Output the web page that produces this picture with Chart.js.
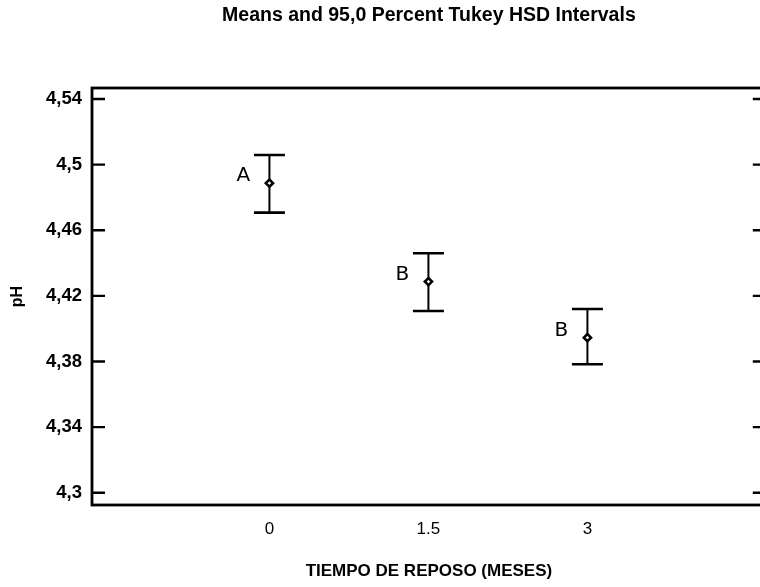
<!DOCTYPE html>
<html>
<head>
<meta charset="utf-8">
<script src="https://cdn.jsdelivr.net/npm/chart.js@4.4.1/dist/chart.umd.min.js"></script>
<style>
  html, body { margin: 0; padding: 0; background: #fff; overflow: hidden; }
  /* the right edge of the frame sits just past the picture edge */
  #wrap { width: 772px; height: 587px; }
</style>
</head>
<body>
<div id="wrap"><canvas id="myChart"></canvas></div>
<script>
// data
const months = [0, 1.5, 3];
const groupLabels = ['0', '1.5', '3'];
const means = [4.4887, 4.4287, 4.3945];
const lower = [4.4707, 4.4108, 4.3783];
const upper = [4.5059, 4.4460, 4.4120];
const letters = ['A', 'B', 'B'];
const yTicks = [4.30, 4.34, 4.38, 4.42, 4.46, 4.50, 4.54];
const yMin = 4.2925, yMax = 4.5467;
const xMin = -1.674, xMax = 4.683;

const sans = "'Liberation Sans', Arial, sans-serif";

// box, inward ticks, error bars, group letters
const tukey = {
  id: 'tukey',
  beforeDatasetsDraw(chart) {
    const { ctx, scales: { x, y } } = chart;
    ctx.save();
    ctx.strokeStyle = '#000';
    months.forEach((m, i) => {
      const px = x.getPixelForValue(m);
      const top = y.getPixelForValue(upper[i]);
      const bot = y.getPixelForValue(lower[i]);
      ctx.lineWidth = 2;
      ctx.beginPath(); ctx.moveTo(px, top); ctx.lineTo(px, bot); ctx.stroke();
      ctx.lineWidth = 2.6;
      ctx.beginPath();
      ctx.moveTo(px - 15.5, top); ctx.lineTo(px + 15.5, top);
      ctx.moveTo(px - 15.5, bot); ctx.lineTo(px + 15.5, bot);
      ctx.stroke();
      // group letter
      ctx.fillStyle = '#000';
      ctx.font = "20px 'DejaVu Sans', sans-serif";
      ctx.textAlign = 'center';
      ctx.textBaseline = 'middle';
      ctx.fillText(letters[i], px - 26, y.getPixelForValue(means[i]) - 7);
    });
    ctx.restore();
  },
  afterDraw(chart) {
    const { ctx, chartArea: a, scales: { y } } = chart;
    ctx.save();
    ctx.strokeStyle = '#000';
    ctx.lineWidth = 2.8;
    ctx.strokeRect(a.left, a.top, a.right - a.left, a.bottom - a.top);
    ctx.lineWidth = 2.4;
    ctx.beginPath();
    yTicks.forEach(v => {
      const py = y.getPixelForValue(v);
      ctx.moveTo(a.left, py); ctx.lineTo(a.left + 13, py);
      ctx.moveTo(a.right - 13, py); ctx.lineTo(a.right, py);
    });
    ctx.stroke();
    ctx.restore();
  }
};

new Chart(document.getElementById('myChart').getContext('2d'), {
  type: 'scatter',
  data: {
    datasets: [{
      label: 'pH',
      data: months.map((m, i) => ({ x: m, y: means[i] })),
      pointStyle: 'rectRot',
      pointRadius: 3.6,
      pointHoverRadius: 3.6,
      borderWidth: 2.6,
      borderColor: '#000',
      backgroundColor: '#fff'
    }]
  },
  options: {
    responsive: true,
    maintainAspectRatio: false,
    animation: false,
    layout: { padding: { left: 0, right: 4, top: 0, bottom: 0 } },
    plugins: {
      legend: { display: false },
      tooltip: { enabled: false },
      title: {
        display: true,
        fullSize: false,
        text: 'Means and 95,0 Percent Tukey HSD Intervals',
        color: '#000',
        font: { family: sans, size: 19.5, weight: 'bold', lineHeight: 1.2 },
        padding: { top: 4, bottom: 60.6 }
      }
    },
    scales: {
      x: {
        type: 'linear',
        min: xMin,
        max: xMax,
        afterBuildTicks: s => { s.ticks = months.map(v => ({ value: v })); },
        afterFit: s => { s.height = 82; },
        grid: { display: false, drawTicks: false },
        border: { display: false },
        ticks: {
          color: '#000',
          padding: 14,
          font: { family: sans, size: 17 },
          callback: v => groupLabels[months.indexOf(v)]
        },
        title: {
          display: true,
          text: 'TIEMPO DE REPOSO (MESES)',
          color: '#000',
          font: { family: sans, size: 17, weight: 'bold', lineHeight: 1.2 },
          padding: { top: 0, bottom: 5 }
        }
      },
      y: {
        min: yMin,
        max: yMax,
        afterBuildTicks: s => { s.ticks = yTicks.map(v => ({ value: v })); },
        afterFit: s => { s.width = 92; },
        grid: { display: false, drawTicks: false },
        border: { display: false },
        ticks: {
          color: '#000',
          padding: 10,
          font: { family: sans, size: 18.5, weight: 'bold' },
          callback: v => String(v).replace('.', ',')
        },
        title: {
          display: true,
          text: 'pH',
          color: '#000',
          font: { family: sans, size: 16, weight: 'bold', lineHeight: 1.2 },
          padding: { top: 8, bottom: 0 }
        }
      }
    }
  },
  plugins: [tukey]
});
</script>
</body>
</html>
